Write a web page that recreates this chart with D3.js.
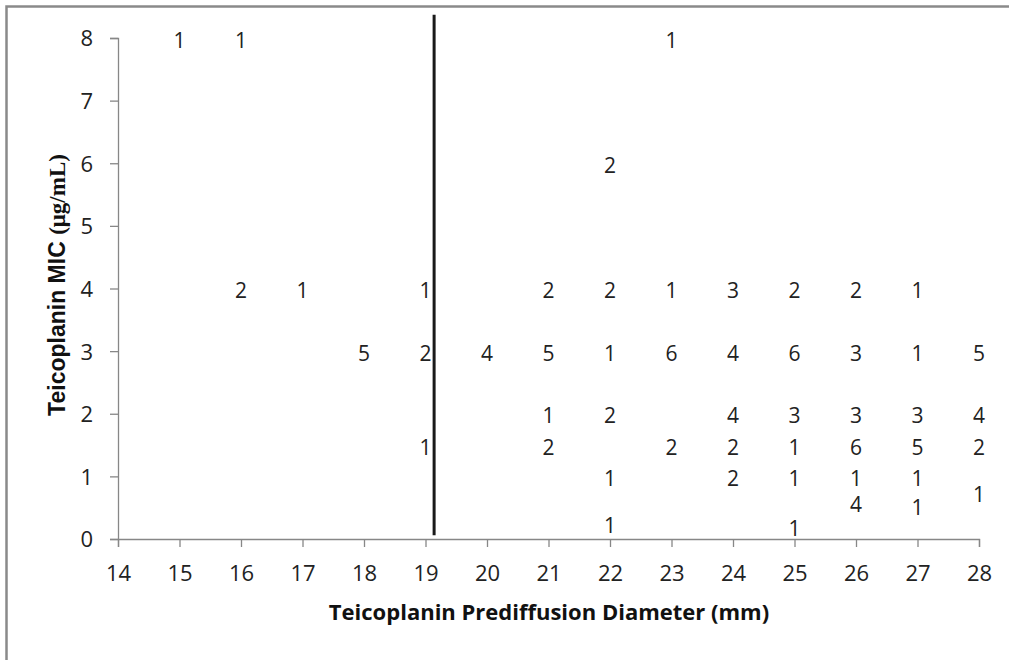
<!DOCTYPE html>
<html>
<head>
<meta charset="utf-8">
<script src="https://cdn.jsdelivr.net/npm/d3@7"></script>
<style>
  body { margin: 0; background: #fff; }
  .tick text { font-family: "Open Sans", sans-serif; font-size: 22px; fill: #222; }
  .tick line, .domain { stroke: #878787; stroke-width: 1.3; }
  .countLabel { font-family: "Open Sans", sans-serif; font-size: 21px; fill: #222; }
</style>
</head>
<body>
<div id="chart"></div>
<script>
var svgWidth = 1009;
var svgHeight = 660;

// diameter (mm), MIC (ug/mL) and number of isolates at each spot
var diameters = [15, 16, 23, 22, 16, 17, 19, 21, 22, 23, 24, 25, 26, 27,
  18, 19, 20, 21, 22, 23, 24, 25, 26, 27, 28,
  21, 22, 24, 25, 26, 27, 28,
  19, 21, 23, 24, 25, 26, 27, 28,
  22, 24, 25, 26, 27,
  28, 26, 27, 22, 25];
var mics = [8, 8, 8, 6, 4, 4, 4, 4, 4, 4, 4, 4, 4, 4,
  3, 3, 3, 3, 3, 3, 3, 3, 3, 3, 3,
  2, 2, 2, 2, 2, 2, 2,
  1.5, 1.5, 1.5, 1.5, 1.5, 1.5, 1.5, 1.5,
  1, 1, 1, 1, 1,
  0.75, 0.58, 0.53, 0.25, 0.2];
var counts = [1, 1, 1, 2, 2, 1, 1, 2, 2, 1, 3, 2, 2, 1,
  5, 2, 4, 5, 1, 6, 4, 6, 3, 1, 5,
  1, 2, 4, 3, 3, 3, 4,
  1, 2, 2, 2, 1, 6, 5, 2,
  1, 2, 1, 1, 1,
  1, 4, 1, 1, 1];

var xTicks = d3.range(14, 29);
var yTicks = d3.range(0, 9);

// breakpoint line
var cutoffX = [19.14];
var cutoffY = [0.06, 8.37];

var margin = {top: 38, right: 30, bottom: 121, left: 118};
var width = svgWidth - margin.left - margin.right;
var height = svgHeight - margin.top - margin.bottom;

var svg = d3.select("#chart")
  .append("svg")
  .attr("width", svgWidth)
  .attr("height", svgHeight);

// frame around the picture
svg.append("rect")
  .attr("x", 6.5)
  .attr("y", 6.5)
  .attr("width", svgWidth + 20)
  .attr("height", svgHeight + 20)
  .attr("fill", "none")
  .attr("stroke", "#8a8a8a")
  .attr("stroke-width", 2.5);

var chartGroup = svg.append("g")
  .attr("transform", `translate(${margin.left}, ${margin.top})`);

var xScale = d3.scaleLinear().domain([14, 28]).range([0, width]);
var yScale = d3.scaleLinear().domain([0, 8]).range([height, 0]);

var bottomAxis = d3.axisBottom(xScale).tickValues(xTicks).tickSize(8).tickPadding(18).tickFormat(d3.format("d"));
var leftAxis = d3.axisLeft(yScale).tickValues(yTicks).tickSize(8).tickPadding(17).tickFormat(d3.format("d"));

chartGroup.append("g")
  .call(leftAxis)
  .selectAll(".tick text").attr("dy", "0.36em");

chartGroup.append("g")
  .attr("transform", `translate(0, ${height})`)
  .call(bottomAxis)
  .selectAll(".tick text").attr("dy", "0.72em");

chartGroup.append("line")
  .attr("x1", xScale(cutoffX[0]))
  .attr("x2", xScale(cutoffX[0]))
  .attr("y1", yScale(cutoffY[0]))
  .attr("y2", yScale(cutoffY[1]))
  .attr("stroke", "#1a1a1a")
  .attr("stroke-width", 3);

var points = diameters.map((d, i) => ({x: d, y: mics[i], n: counts[i]}));

chartGroup.selectAll(".countLabel")
  .data(points)
  .enter()
  .append("text")
  .attr("class", "countLabel")
  .attr("x", d => xScale(d.x))
  .attr("y", d => yScale(d.y) + 2)
  .attr("dy", "0.36em")
  .attr("text-anchor", "middle")
  .text(d => d.n);

var yTitle = svg.append("text")
  .attr("transform", "translate(65, 285) rotate(-90)")
  .attr("text-anchor", "middle")
  .attr("font-weight", "bold")
  .attr("font-size", "23px")
  .attr("fill", "#111");
yTitle.append("tspan")
  .attr("font-family", "'Liberation Sans', Arial, sans-serif")
  .text("Teicoplanin MIC ");
yTitle.append("tspan")
  .attr("font-family", "'Liberation Serif', 'Times New Roman', serif")
  .text("(μg/mL)");

svg.append("text")
  .attr("x", 549)
  .attr("y", 620)
  .attr("text-anchor", "middle")
  .attr("font-family", "'Open Sans', sans-serif")
  .attr("font-weight", "bold")
  .attr("font-size", "22px")
  .attr("fill", "#111")
  .text("Teicoplanin Prediffusion Diameter (mm)");
</script>
</body>
</html>
